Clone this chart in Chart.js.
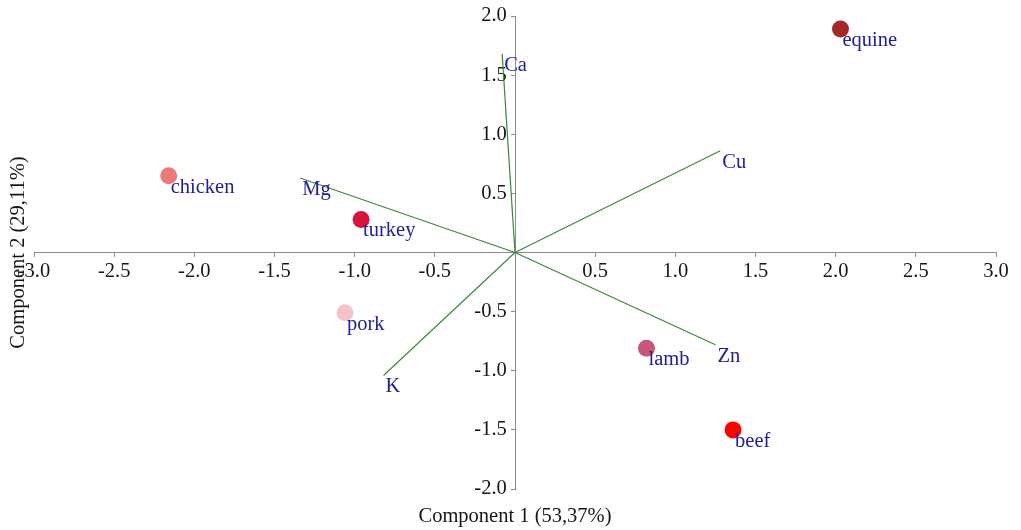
<!DOCTYPE html>
<html>
<head>
<meta charset="utf-8">
<script src="https://cdn.jsdelivr.net/npm/chart.js@4/dist/chart.umd.min.js"></script>
<style>
  html, body { margin: 0; padding: 0; background: #ffffff; }
  #wrap { width: 1021px; height: 530px; }
</style>
</head>
<body>
<div id="wrap"><canvas id="c" width="1021" height="530"></canvas></div>
<script>
// Scores (samples)
const sampleNames = ["chicken", "turkey", "pork", "equine", "lamb", "beef"];
const sampleX = [-2.16, -0.96, -1.06, 2.03, 0.82, 1.36];
const sampleY = [0.65, 0.28, -0.51, 1.89, -0.81, -1.50];
const sampleColors = ["#ea7a7a", "#d8143c", "#f8c2cc", "#a52828", "#c9557a", "#ff0000"];

// Loadings (variables)
const varNames = ["Ca", "Cu", "Mg", "K", "Zn"];
const varX = [-0.08, 1.28, -1.34, -0.82, 1.25];
const varY = [1.68, 0.86, 0.63, -1.04, -0.78];

// Axes
const xTitle = "Component 1 (53,37%)";
const yTitle = "Component 2 (29,11%)";
const xMin = -3, xMax = 3, yMin = -2, yMax = 2, tickStep = 0.5;

const FONT = "'Liberation Serif', 'Times New Roman', serif";
const LABEL_COLOR = "#20209a";
const LINE_COLOR = "#3a8a3a";

const datasets = [];
varNames.forEach((n, i) => {
  datasets.push({
    type: 'line',
    label: n,
    data: [{x: 0, y: 0}, {x: varX[i], y: varY[i]}],
    borderColor: LINE_COLOR,
    borderWidth: 1.2,
    pointRadius: 0,
    fill: false,
    tension: 0,
    _labels: [null, n]
  });
});
datasets.push({
  type: 'scatter',
  label: 'samples',
  data: sampleX.map((x, i) => ({x: x, y: sampleY[i]})),
  backgroundColor: sampleColors,
  borderWidth: 0,
  pointRadius: 8.5,
  pointHoverRadius: 8.5,
  _labels: sampleNames
});

const labelPlugin = {
  id: 'labelPlugin',
  afterDatasetsDraw(chart) {
    const ctx = chart.ctx;
    ctx.save();
    ctx.font = "20.5px " + FONT;
    ctx.fillStyle = LABEL_COLOR;
    ctx.textAlign = 'left';
    ctx.textBaseline = 'middle';
    chart.data.datasets.forEach((ds, di) => {
      const meta = chart.getDatasetMeta(di);
      meta.data.forEach((el, i) => {
        const t = ds._labels[i];
        if (!t) return;
        ctx.fillText(t, el.x + 2, el.y + 11.5);
      });
    });
    // axis titles
    ctx.fillStyle = "#161616";
    ctx.font = "20.5px " + FONT;
    ctx.textAlign = 'center';
    ctx.textBaseline = 'middle';
    const xs = chart.scales.x, ys = chart.scales.y;
    ctx.fillText(xTitle, xs.getPixelForValue(0), 517);
    ctx.translate(19, ys.getPixelForValue(0));
    ctx.rotate(-Math.PI / 2);
    ctx.fillText(yTitle, 0, 0);
    ctx.restore();
  }
};

const tickCb = v => Math.abs(v) < 1e-9 ? '' : Number(v).toFixed(1);
const yTickCb = v => Math.abs(v) < 1e-9 ? '' : Number(v).toFixed(1) + '\u2009\u2009';

new Chart(document.getElementById('c'), {
  type: 'scatter',
  data: { datasets: datasets },
  options: {
    responsive: false,
    animation: false,
    layout: { padding: { left: 34, right: 25, top: 16, bottom: 41 } },
    plugins: { legend: { display: false }, tooltip: { enabled: false } },
    scales: {
      x: {
        type: 'linear', min: xMin, max: xMax,
        position: { y: 0 },
        grid: { drawOnChartArea: false, drawTicks: true, tickLength: 4, color: '#8c8c8c' },
        border: { display: true, color: '#8c8c8c', width: 1 },
        ticks: { stepSize: tickStep, callback: tickCb, color: '#161616', font: { family: FONT, size: 20.5 }, padding: 3, maxRotation: 0, autoSkip: false }
      },
      y: {
        type: 'linear', min: yMin, max: yMax,
        position: { x: 0 },
        grid: { drawOnChartArea: false, drawTicks: true, tickLength: 4, color: '#8c8c8c' },
        border: { display: true, color: '#8c8c8c', width: 1 },
        ticks: { stepSize: tickStep, callback: yTickCb, color: '#161616', font: { family: FONT, size: 20.5 }, padding: 3, autoSkip: false }
      }
    }
  },
  plugins: [labelPlugin]
});
</script>
</body>
</html>
